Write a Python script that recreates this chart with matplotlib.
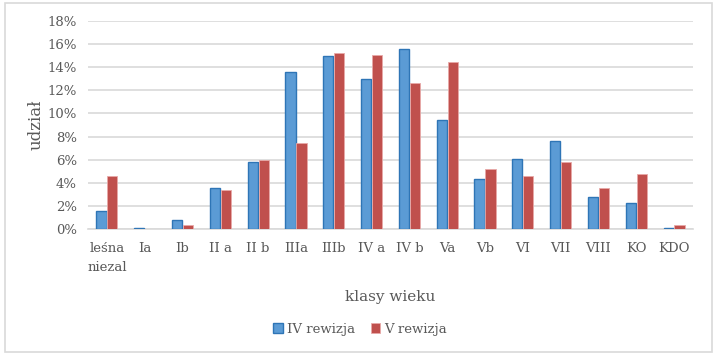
import matplotlib.pyplot as plt
import numpy as np
from matplotlib.patches import Rectangle

categories = ['leśna\nniezal', 'Ia', 'Ib', 'II a', 'II b', 'IIIa', 'IIIb', 'IV a',
              'IV b', 'Va', 'Vb', 'VI', 'VII', 'VIII', 'KO', 'KDO']
rew4 = [1.6, 0.1, 0.8, 3.55, 5.8, 13.6, 14.93, 12.97, 15.53, 9.4, 4.3, 6.04, 7.62, 2.79, 2.3, 0.15]
rew5 = [4.6, 0.0, 0.4, 3.4, 6.0, 7.45, 15.24, 15.04, 12.6, 14.46, 5.2, 4.6, 5.8, 3.56, 4.77, 0.35]
yticks = [0, 2, 4, 6, 8, 10, 12, 14, 16, 18]

plt.rcParams['font.family'] = ['DejaVu Serif']

fig = plt.figure(figsize=(7.19, 3.59), dpi=100)
ax = fig.add_axes([88 / 719, 1 - 229.3 / 359, (693 - 88) / 719, (229.3 - 20.7) / 359])

x = np.arange(len(categories))
w = 0.27
ax.bar(x - w / 2 - 0.01, rew4, w, color='#5B9BD5', edgecolor='#2E75B6', linewidth=1.0,
       label='IV rewizja', zorder=3)
ax.bar(x + w / 2 + 0.01, rew5, w, color='#C0504D', edgecolor='#E8A9A8', linewidth=0.6,
       label='V rewizja', zorder=3)

ax.set_xlim(-0.5, len(categories) - 0.5)
ax.set_ylim(0, 18)
ax.set_yticks(yticks)
ax.set_yticklabels([f'{t}%' for t in yticks])
ax.set_xticks(x)
ax.set_xticklabels(categories, linespacing=1.6, va='top')
ax.grid(axis='y', color='#D9D9D9', linewidth=1.2, zorder=0)
for s in ['top', 'right', 'left']:
    ax.spines[s].set_visible(False)
ax.spines['bottom'].set_color('#D9D9D9')
ax.spines['bottom'].set_linewidth(1.2)
ax.tick_params(axis='both', length=0, colors='#595959', labelsize=9.5)
ax.tick_params(axis='x', pad=9)
ax.tick_params(axis='y', pad=8)

ax.set_ylabel('udział', fontsize=12, color='#595959')
ax.yaxis.set_label_coords((45 - 88) / 605, 0.5)
ax.set_xlabel('klasy wieku', fontsize=11, color='#595959')
ax.xaxis.set_label_coords(0.5, -(290 - 229.3) / 208.6)

fig.legend(loc='center', bbox_to_anchor=(360 / 719, 1 - 329 / 359), ncol=2, frameon=False,
           fontsize=9.5, handlelength=0.7, handleheight=0.7, handletextpad=0.3,
           columnspacing=1.2, labelcolor='#595959')

fig.patches.append(Rectangle((5 / 719, 1 - 352 / 359), 707 / 719, 349 / 359,
                             transform=fig.transFigure, fill=False,
                             edgecolor='#D9D9D9', linewidth=1.2))

fig.savefig('out.png', dpi=100)
